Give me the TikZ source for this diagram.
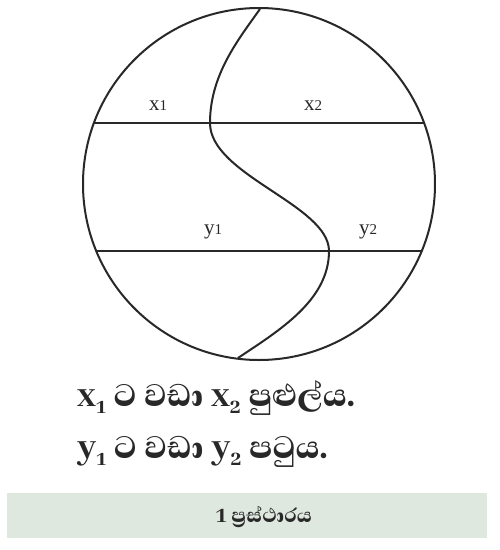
\documentclass[tikz,border=0pt]{standalone}
\usepackage{fontspec}
\setmainfont{Liberation Serif}
\newfontfamily\sinfont[Script=Sinhala,BoldFont={* ExtraBold}]{Abhaya Libre}
\definecolor{capgreen}{RGB}{223,232,222}
\definecolor{ink}{RGB}{40,40,40}
\tikzset{
  rim/.style={draw=ink, line width=2pt},
  lbl/.style={inner sep=0pt, font=\fontsize{21}{22}\selectfont, text=ink},
  sent/.style={inner sep=0pt, anchor=base west, font=\sinfont\bfseries\fontsize{40}{40}\selectfont, text=ink},
}
\newcommand{\lsub}[1]{{\fontsize{15}{15}\selectfont #1}}
\newcommand{\ssub}[1]{\raisebox{-7pt}{\fontsize{23}{23}\selectfont #1}}
\begin{document}
\begin{tikzpicture}[x=1pt,y=-1pt]
\useasboundingbox (0,0) rectangle (500,550);
\fill[white] (0,0) rectangle (500,550);
% circle
\draw[rim] (259,184) circle[radius=176];
% chords
\coordinate (l1) at (94,123);
\coordinate (r1) at (424,123);
\coordinate (l2) at (96,251);
\coordinate (r2) at (422,251);
\draw[rim] (l1) -- (r1);
\draw[rim] (l2) -- (r2);
% S curve
\coordinate (top) at (260,9);
\coordinate (a) at (210,123);
\coordinate (b) at (329,251);
\coordinate (bot) at (238,358);
\draw[rim] (top) .. controls (238,40) and (210,75) .. (a)
  .. controls (210,175) and (329,205) .. (b)
  .. controls (329,300) and (280,330) .. (bot);
% labels
\node[lbl] (x1) at (158,106) {x\lsub{1}};
\node[lbl] (x2) at (313,106) {x\lsub{2}};
\node[lbl] (y1) at (213,232) {y\lsub{1}};
\node[lbl] (y2) at (368,232) {y\lsub{2}};
% sentences
\node[sent] (s1) at (77,406) {x\ssub{1} ට වඩා x\ssub{2} පුළුල්ය.};
\node[sent] (s2) at (77,458) {y\ssub{1} ට වඩා y\ssub{2} පටුය.};
% caption
\fill[capgreen] (7,493) rectangle (487,538);
\node[inner sep=0pt, anchor=base, font=\sinfont\bfseries\fontsize{25}{28}\selectfont, text=ink] (cap) at (264,522) {1 ප්‍රස්ථාරය};
\end{tikzpicture}
\end{document}
